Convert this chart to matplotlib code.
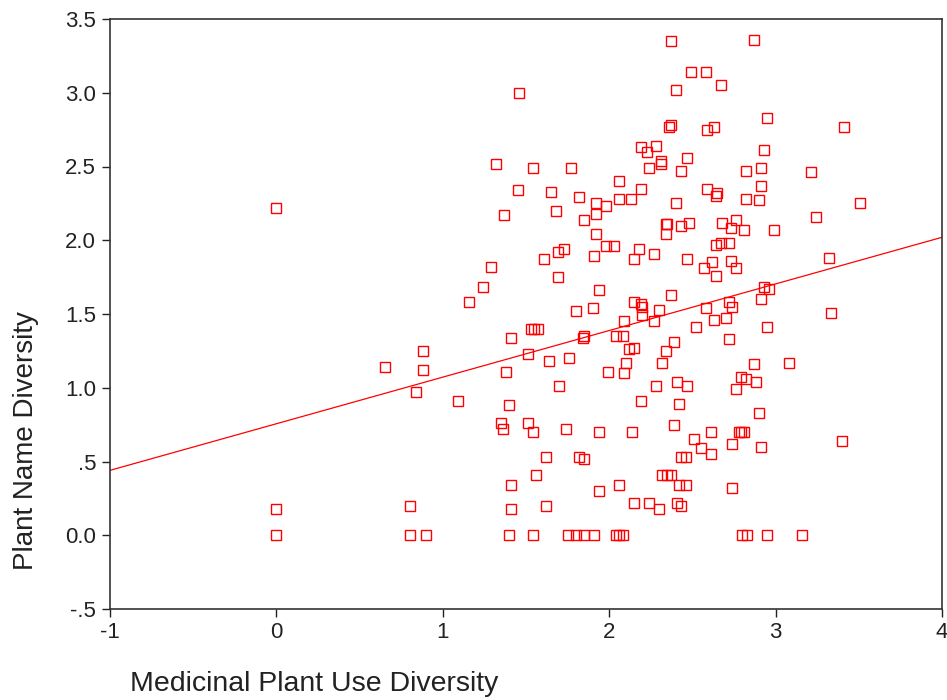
import numpy as np
import matplotlib
matplotlib.use('Agg')
from matplotlib import pyplot as plt

# medicinal plant use diversity (x) vs plant name diversity (y)
use_div = [
    2.37, 2.40, 1.46, 2.36, 2.37, 2.19, 2.28, 2.23, 2.31, 2.31, 2.47, 1.32, 1.54, 1.77, 2.24,
    2.43, 2.06, 1.45, 1.65, 1.82, 2.19, 2.06, 2.13, 1.92, 1.98, 2.40, 1.68,
    2.87, 2.49, 2.58, 2.67, 2.95, 3.41, 2.63, 2.59, 2.93, 2.82, 2.91, 3.21, 2.91, 2.59,
    2.65, 2.64, 2.82, 2.90, 3.51,
    0.0, 1.16, 1.24, 0.88, 0.65, 0.88, 0.84, 1.09, 0.0, 0.80, 0.0, 0.80, 0.90,
    1.37, 1.85, 1.92, 2.34, 2.35, 2.34, 2.43, 2.48, 1.92, 1.98, 2.03, 1.69, 1.73, 1.61,
    1.91, 2.18, 2.15, 2.27, 2.47, 1.29, 1.69, 1.94, 2.37, 2.15, 2.19, 2.20, 2.30, 1.80,
    1.90, 2.20, 2.09, 2.27, 1.53, 1.55, 1.57, 1.41, 1.84, 1.85, 2.04, 2.08, 2.12, 2.15,
    2.39, 2.34, 1.51, 1.64, 1.76, 2.10, 2.32, 1.38, 1.99, 2.09, 1.70, 2.28, 2.41, 2.47,
    3.24, 2.68, 2.76, 2.73, 2.81, 2.99, 2.64, 2.67, 2.72, 2.62, 2.73, 2.57, 2.76, 2.64,
    3.32, 2.93, 2.96, 2.91, 2.72, 2.74, 2.58, 2.63, 2.70, 3.33, 2.52, 2.95, 2.72, 2.87,
    3.08, 2.79, 2.82, 2.88, 2.76,
    1.40, 2.19, 2.42, 1.35, 1.36, 1.51, 1.54, 1.74, 1.94, 2.14, 2.39, 2.51, 1.62, 1.82,
    1.85, 2.43, 2.46, 1.56, 2.32, 2.35, 2.37, 1.41, 1.94, 2.06, 2.42, 2.46, 1.41, 1.62,
    2.15, 2.24, 2.30, 2.41, 2.43, 1.40, 1.54, 1.75, 1.80, 1.85, 1.91, 2.04, 2.06, 2.08,
    2.90, 2.61, 2.78, 2.79, 2.81, 2.74, 2.91, 3.40, 2.55, 2.61, 2.74, 2.80, 2.83, 2.95, 3.16,
]
name_div = [
    3.35, 3.02, 3.00, 2.77, 2.78, 2.63, 2.64, 2.60, 2.54, 2.52, 2.56, 2.52, 2.49, 2.49, 2.49,
    2.47, 2.40, 2.34, 2.33, 2.29, 2.35, 2.28, 2.28, 2.25, 2.23, 2.25, 2.20,
    3.36, 3.14, 3.14, 3.05, 2.83, 2.77, 2.77, 2.75, 2.61, 2.47, 2.49, 2.46, 2.37, 2.35,
    2.32, 2.30, 2.28, 2.27, 2.25,
    2.22, 1.58, 1.68, 1.25, 1.14, 1.12, 0.97, 0.91, 0.18, 0.20, 0.0, 0.0, 0.0,
    2.17, 2.14, 2.18, 2.11, 2.11, 2.04, 2.10, 2.12, 2.04, 1.96, 1.96, 1.92, 1.94, 1.87,
    1.89, 1.94, 1.87, 1.91, 1.87, 1.82, 1.75, 1.66, 1.63, 1.58, 1.57, 1.55, 1.53, 1.52,
    1.54, 1.49, 1.45, 1.45, 1.40, 1.40, 1.40, 1.34, 1.34, 1.35, 1.35, 1.35, 1.26, 1.27,
    1.31, 1.25, 1.23, 1.18, 1.20, 1.17, 1.17, 1.11, 1.11, 1.10, 1.01, 1.01, 1.04, 1.01,
    2.16, 2.12, 2.14, 2.08, 2.07, 2.07, 1.97, 1.98, 1.98, 1.85, 1.86, 1.81, 1.81, 1.76,
    1.88, 1.68, 1.67, 1.60, 1.58, 1.55, 1.54, 1.46, 1.47, 1.51, 1.41, 1.41, 1.33, 1.16,
    1.17, 1.07, 1.06, 1.04, 0.99,
    0.88, 0.91, 0.89, 0.76, 0.72, 0.76, 0.70, 0.72, 0.70, 0.70, 0.75, 0.65, 0.53, 0.53,
    0.52, 0.53, 0.53, 0.41, 0.41, 0.41, 0.41, 0.34, 0.30, 0.34, 0.34, 0.34, 0.18, 0.20,
    0.22, 0.22, 0.18, 0.22, 0.20, 0.0, 0.0, 0.0, 0.0, 0.0, 0.0, 0.0, 0.0, 0.0,
    0.83, 0.70, 0.70, 0.70, 0.70, 0.62, 0.60, 0.64, 0.59, 0.55, 0.32, 0.0, 0.0, 0.0, 0.0,
]

x_ticks = [-1, 0, 1, 2, 3, 4]
x_labels = ['-1', '0', '1', '2', '3', '4']
y_ticks = [-0.5, 0.0, 0.5, 1.0, 1.5, 2.0, 2.5, 3.0, 3.5]
y_labels = ['-.5', '0.0', '.5', '1.0', '1.5', '2.0', '2.5', '3.0', '3.5']

# fit line as drawn in the source (SPSS linear fit)
fit_intercept = 0.756
fit_slope = 0.316

plt.rcParams['font.family'] = ['Liberation Sans', 'DejaVu Sans']

fig = plt.figure(figsize=(9.47, 7.0), dpi=100)
ax = fig.add_axes([110/947, 1-609/700, (942-110)/947, (609-19)/700])

ax.plot(use_div, name_div, linestyle='none', marker='s', markersize=6.5,
        markerfacecolor='none', markeredgecolor='#ff0000', markeredgewidth=1.0)

xs = np.array([-1, 4])
ax.plot(xs, fit_intercept + fit_slope*xs, color='#ff0000', linewidth=0.9)

ax.set_xlim(-1, 4)
ax.set_ylim(-0.5, 3.5)
ax.set_xticks(x_ticks)
ax.set_xticklabels(x_labels, fontsize=16)
ax.set_yticks(y_ticks)
ax.set_yticklabels(y_labels, fontsize=16)
ax.tick_params(direction='out', length=6, width=1, colors='#222222', pad=4)
ax.tick_params(axis='x', pad=3)
for s in ax.spines.values():
    s.set_color('#333333')
    s.set_linewidth(1.2)

fig.text(130/947, 1-684/700, 'Medicinal Plant Use Diversity', fontsize=20.5,
         ha='left', va='center', color='#222222')
fig.text(26/947, 1-441/700, 'Plant Name Diversity', fontsize=20, rotation=90,
         ha='center', va='center', color='#222222')

fig.savefig('out.png', dpi=100, facecolor='white')
